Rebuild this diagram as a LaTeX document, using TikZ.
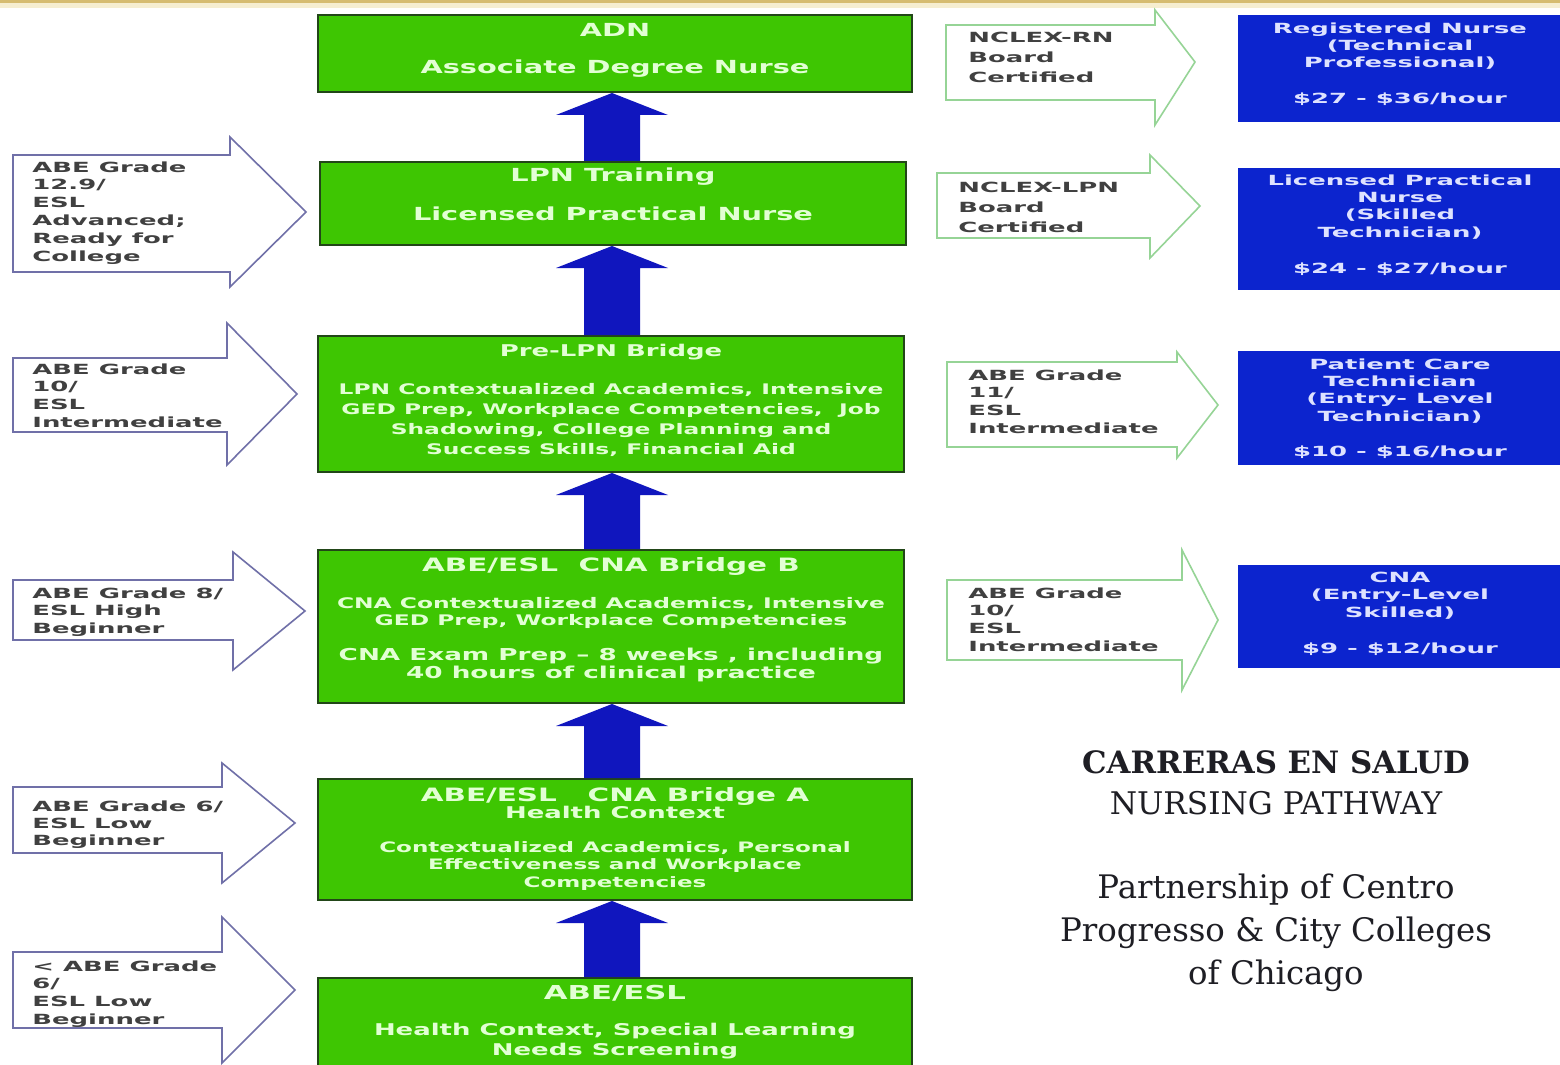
\documentclass[tikz,border=0pt]{standalone}
\usepackage{fontspec}
\usetikzlibrary{calc,fit}

% Fonts: wide bold sans for the boxes and notes, slab-like serif for the caption
\newfontfamily\greenfont[FakeStretch=1.6]{DejaVu Sans}
\newfontfamily\widefont[FakeStretch=1.85]{DejaVu Sans}
\newfontfamily\slabfont{DejaVu Serif}

\definecolor{stepgreen}{RGB}{62,198,2}
\definecolor{stepedge}{RGB}{34,70,24}
\definecolor{steptext}{RGB}{226,255,212}
\definecolor{jobblue}{RGB}{12,36,206}
\definecolor{jobtext}{RGB}{222,226,255}
\definecolor{climbblue}{RGB}{16,22,190}
\definecolor{levelline}{RGB}{112,112,168}
\definecolor{examline}{RGB}{150,212,150}
\definecolor{notegray}{RGB}{64,64,64}
\definecolor{slabtext}{RGB}{30,30,36}
\definecolor{goldband}{RGB}{214,188,112}
\definecolor{goldfade}{RGB}{246,238,208}

% outline block arrow: [style]{x left}{body top}{body bottom}{x head}{head top}{head bottom}{x tip}{y tip}
\newcommand\blockarrow[9][]{%
  \draw[#1] (#2,#3) -- (#5,#3) -- (#5,#6) -- (#8,#9) -- (#5,#7) -- (#5,#4) -- (#2,#4) -- cycle;}

% solid up arrow from the top of box #1 to the bottom of box #2
\newcommand\climb[2]{%
  \fill[climbarrow] (shaftL |- #1.north) -- ($(shaftL |- #2.south)+(0,22)$)
    -- ($(headL |- #2.south)+(0,22)$) -- (tipX |- #2.south)
    -- ($(headR |- #2.south)+(0,22)$) -- ($(shaftR |- #2.south)+(0,22)$)
    -- (shaftR |- #1.north) -- cycle;}

\newcommand\gsize[2]{\fontsize{#1}{#2}\selectfont}

\begin{document}
\begin{tikzpicture}[x=0.5pt,y=-0.5pt,
  stepbox/.style={rectangle,fill=stepgreen,draw=stepedge,line width=1pt,inner sep=0pt},
  jobbox/.style={rectangle,fill=jobblue,inner sep=0pt},
  steplabel/.style={text=steptext,font=\greenfont\bfseries,align=center,inner sep=0pt},
  joblabel/.style={text=jobtext,align=center,inner sep=0pt},
  notelabel/.style={text=notegray,align=left,anchor=north west,inner sep=0pt},
  levelarrow/.style={draw=levelline,line width=0.8pt,line join=miter},
  examarrow/.style={draw=examline,line width=0.8pt,line join=miter},
  climbarrow/.style={fill=climbblue},
  caption/.style={text=slabtext,align=center,inner sep=0pt}]

\useasboundingbox (0,0) rectangle (1560,1065);
\clip (0,0) rectangle (1560,1065);
\fill[white] (0,0) rectangle (1560,1065);

% top rule
\fill[goldfade] (0,3) rectangle (1560,8);
\fill[goldband] (0,0) rectangle (1560,3.5);

% helper x positions for the up arrows
\coordinate (shaftL) at (584,0);
\coordinate (shaftR) at (640,0);
\coordinate (headL) at (556,0);
\coordinate (headR) at (668,0);
\coordinate (tipX) at (612,0);

% ---------- pathway steps ----------
\node[stepbox,fit={(318,15) (912,92)}] (adn) {};
\node[stepbox,fit={(320,162) (906,245)}] (lpn) {};
\node[stepbox,fit={(318,336) (904,472)}] (pre) {};
\node[stepbox,fit={(318,550) (904,703)}] (cnab) {};
\node[stepbox,fit={(318,779) (912,900)}] (cnaa) {};
\node[stepbox,fit={(318,978) (912,1080)}] (abe) {};

\node[steplabel,font=\greenfont\bfseries\gsize{9}{10}] (adn-t) at (615,30) {ADN};
\node[steplabel,font=\greenfont\bfseries\gsize{9}{10}] (adn-s) at (615,69) {Associate Degree Nurse};

\node[steplabel,font=\greenfont\bfseries\gsize{9}{10}] (lpn-t) at (613,177) {LPN Training};
\node[steplabel,font=\greenfont\bfseries\gsize{9}{10}] (lpn-s) at (613,214) {Licensed Practical Nurse};

\node[steplabel,font=\greenfont\bfseries\gsize{8.1}{10}] (pre-t) at (611,352) {Pre-LPN Bridge};
\node[steplabel,font=\greenfont\bfseries\gsize{7.3}{10}] (pre-s) at (611,420)
  {LPN Contextualized Academics, Intensive\\GED Prep, Workplace Competencies,\ \ Job\\Shadowing, College Planning and\\Success Skills, Financial Aid};

\node[steplabel,font=\greenfont\bfseries\gsize{9.2}{10}] (cnab-t) at (611,566) {ABE/ESL\ \ CNA Bridge B};
\node[steplabel,font=\greenfont\bfseries\gsize{7.3}{8.5}] (cnab-s) at (611,612.5)
  {CNA Contextualized Academics, Intensive\\GED Prep, Workplace Competencies};
\node[steplabel,font=\greenfont\bfseries\gsize{8.2}{9}] (cnab-e) at (611,665)
  {CNA Exam Prep – 8 weeks , including\\40 hours of clinical practice};

\node[steplabel,font=\greenfont\bfseries\gsize{9.2}{8.5}] (cnaa-t) at (615,803.5)
  {ABE/ESL\ \ \ CNA Bridge A\\\gsize{8.1}{8.5}Health Context};
\node[steplabel,font=\greenfont\bfseries\gsize{7.2}{8.75}] (cnaa-s) at (615,866)
  {Contextualized Academics, Personal\\Effectiveness and Workplace\\Competencies};

\node[steplabel,font=\greenfont\bfseries\gsize{9.6}{10}] (abe-t) at (615,993) {ABE/ESL};
\node[steplabel,font=\greenfont\bfseries\gsize{8.1}{10}] (abe-s) at (615,1041)
  {Health Context, Special Learning\\Needs Screening};

% up arrows between steps
\climb{lpn}{adn}
\climb{pre}{lpn}
\climb{cnab}{pre}
\climb{cnaa}{cnab}
\climb{abe}{cnaa}

% ---------- entry levels (left) ----------
\blockarrow[levelarrow]{13}{155}{272}{230}{137}{287}{306}{212}
\blockarrow[levelarrow]{13}{358}{432}{227}{323}{465}{297}{394}
\blockarrow[levelarrow]{13}{580}{640}{233}{552}{670}{305}{611}
\blockarrow[levelarrow]{13}{787}{853}{222}{763}{883}{295}{823}
\blockarrow[levelarrow]{13}{952}{1028}{222}{917}{1063}{295}{990}

\node[notelabel,font=\widefont\bfseries\gsize{7}{8.9}] (lv1) at (32,161)
  {ABE Grade\\12.9/\\ESL\\Advanced;\\Ready for\\College};
\node[notelabel,font=\widefont\bfseries\gsize{7}{8.85}] (lv2) at (32,363)
  {ABE Grade\\10/\\ESL\\Intermediate};
\node[notelabel,font=\widefont\bfseries\gsize{7}{8.75}] (lv3) at (32,587)
  {ABE Grade 8/\\ESL High\\Beginner};
\node[notelabel,font=\widefont\bfseries\gsize{7}{8.5}] (lv4) at (32,800)
  {ABE Grade 6/\\ESL Low\\Beginner};
\node[notelabel,font=\widefont\bfseries\gsize{7}{8.85}] (lv5) at (32,960)
  {< ABE Grade\\6/\\ESL Low\\Beginner};

% ---------- exit points (right) ----------
\blockarrow[examarrow]{946}{25}{100}{1155}{10}{125}{1195}{62}
\blockarrow[examarrow]{937}{173}{238}{1150}{155}{258}{1200}{206}
\blockarrow[examarrow]{947}{362}{447}{1177}{352}{458}{1218}{405}
\blockarrow[examarrow]{947}{580}{660}{1182}{550}{690}{1218}{620}

\node[notelabel,font=\widefont\bfseries\gsize{7}{10}] (ex1) at (968,32)
  {NCLEX-RN\\Board\\Certified};
\node[notelabel,font=\widefont\bfseries\gsize{7}{10}] (ex2) at (958,182)
  {NCLEX-LPN\\Board\\Certified};
\node[notelabel,font=\widefont\bfseries\gsize{7}{8.85}] (ex3) at (968,369)
  {ABE Grade\\11/\\ESL\\Intermediate};
\node[notelabel,font=\widefont\bfseries\gsize{7}{8.85}] (ex4) at (968,587)
  {ABE Grade\\10/\\ESL\\Intermediate};

% ---------- jobs and wages ----------
\node[jobbox,fit={(1238,15) (1565,122)}] (rn) {};
\node[jobbox,fit={(1238,168) (1565,290)}] (lpnjob) {};
\node[jobbox,fit={(1238,351) (1565,465)}] (pct) {};
\node[jobbox,fit={(1238,565) (1565,668)}] (cnajob) {};

\node[joblabel,font=\widefont\bfseries\gsize{7}{8.5}] (rn-t) at (1400,64)
  {Registered Nurse\\(Technical\\Professional)\\[9.5pt]\$27 - \$36/hour};
\node[joblabel,font=\widefont\bfseries\gsize{7}{8.7}] (lpnjob-t) at (1400,225)
  {Licensed Practical\\Nurse\\(Skilled\\Technician)\\[9.3pt]\$24 - \$27/hour};
\node[joblabel,font=\widefont\bfseries\gsize{7}{8.7}] (pct-t) at (1400,408.5)
  {Patient Care\\Technician\\(Entry- Level\\Technician)\\[8.8pt]\$10 - \$16/hour};
\node[joblabel,font=\widefont\bfseries\gsize{7}{8.75}] (cnajob-t) at (1400,613.5)
  {CNA\\(Entry-Level\\Skilled)\\[9.2pt]\$9 - \$12/hour};

% ---------- caption ----------
\node[caption,font=\slabfont\bfseries\gsize{15.4}{20}] (cap-1) at (1276,762) {CARRERAS EN SALUD};
\node[caption,font=\slabfont\gsize{15.6}{20}] (cap-2) at (1276,803) {NURSING PATHWAY};
\node[caption,font=\slabfont\gsize{16.2}{21.5}] (cap-3) at (1276,933)
  {Partnership of Centro\\Progresso \& City Colleges\\of Chicago};

\end{tikzpicture}
\end{document}
